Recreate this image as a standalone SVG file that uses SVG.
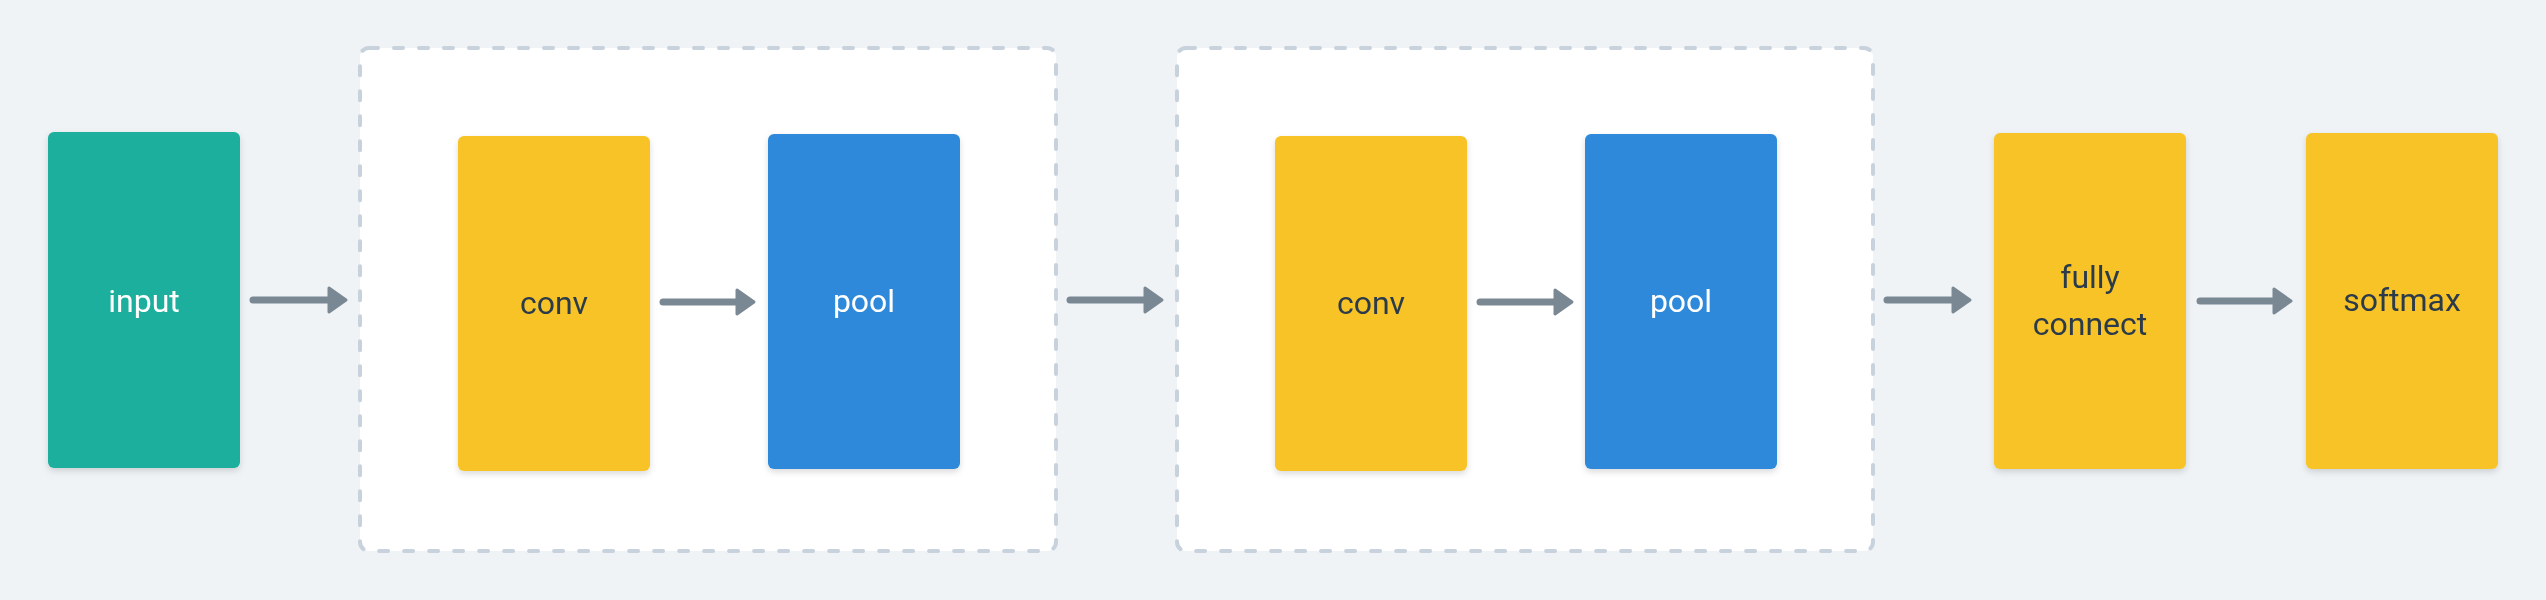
<svg xmlns="http://www.w3.org/2000/svg" width="2546" height="600" viewBox="0 0 2546 600">
<defs>
<style>
.grp{fill:#ffffff;stroke:#c8d2dc;stroke-width:4;stroke-dasharray:9 16;stroke-linecap:round;}
.box{filter:url(#sh);}
.teal{fill:#1aaf9e;}
.yel{fill:#f7c325;}
.blue{fill:#2d89da;}
.lbl{font-family:Roboto,"Noto Sans",sans-serif;font-size:32px;text-anchor:middle;fill:#2c3a4b;}
.lbl.w{fill:#ffffff;}
.conn line{stroke:#7a8894;stroke-width:7;stroke-linecap:round;}
</style>
<filter id="sh" x="-20%" y="-20%" width="140%" height="140%">
<feDropShadow dx="0" dy="3" stdDeviation="3" flood-color="#000000" flood-opacity="0.14"/>
</filter>
<marker id="ah" markerUnits="userSpaceOnUse" viewBox="-3 -16 24 32" markerWidth="24" markerHeight="32" refX="0" refY="0" orient="auto">
<path d="M0,-12 L17,0 L0,12 Z" fill="#7a8894" stroke="#7a8894" stroke-width="3" stroke-linejoin="round"/>
</marker>
</defs>
<rect width="2546" height="600" fill="#eff3f6"/>
<g id="group1"><rect class="grp" x="360" y="48" width="696" height="503" rx="9"/></g>
<g id="group2"><rect class="grp" x="1177" y="48" width="696" height="503" rx="9"/></g>
<g id="input" class="box"><rect class="teal" x="48" y="132" width="192" height="336" rx="6"/><text class="lbl w" x="144" y="312">input</text></g>
<g id="conv1" class="box"><rect class="yel" x="458" y="136" width="192" height="335" rx="6"/><text class="lbl" x="554" y="314">conv</text></g>
<g id="pool1" class="box"><rect class="blue" x="768" y="134" width="192" height="335" rx="6"/><text class="lbl w" x="864" y="312">pool</text></g>
<g id="conv2" class="box"><rect class="yel" x="1275" y="136" width="192" height="335" rx="6"/><text class="lbl" x="1371" y="314">conv</text></g>
<g id="pool2" class="box"><rect class="blue" x="1585" y="134" width="192" height="335" rx="6"/><text class="lbl w" x="1681" y="312">pool</text></g>
<g id="fc" class="box"><rect class="yel" x="1994" y="133" width="192" height="336" rx="6"/><text class="lbl" x="2090" y="288">fully</text><text class="lbl" x="2090" y="335">connect</text></g>
<g id="softmax" class="box"><rect class="yel" x="2306" y="133" width="192" height="336" rx="6"/><text class="lbl" x="2402" y="311">softmax</text></g>
<g id="connectors" class="conn">
<line x1="253" y1="300" x2="329" y2="300" marker-end="url(#ah)"/>
<line x1="663" y1="302" x2="737" y2="302" marker-end="url(#ah)"/>
<line x1="1070" y1="300" x2="1145" y2="300" marker-end="url(#ah)"/>
<line x1="1480" y1="302" x2="1555" y2="302" marker-end="url(#ah)"/>
<line x1="1887" y1="300" x2="1953" y2="300" marker-end="url(#ah)"/>
<line x1="2200" y1="301" x2="2274" y2="301" marker-end="url(#ah)"/>
</g>
</svg>
